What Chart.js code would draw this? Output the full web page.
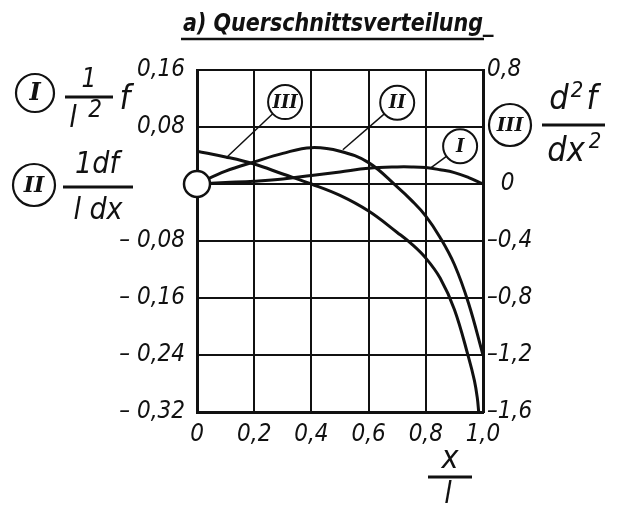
<!DOCTYPE html>
<html>
<head>
<meta charset="utf-8">
<script src="https://cdn.jsdelivr.net/npm/chart.js@4.4.1/dist/chart.umd.min.js"></script>
<style>
  html, body { margin: 0; padding: 0; background: #fff; }
</style>
</head>
<body>
<canvas id="grafico" width="619" height="509"></canvas>
<script>
// x/l
const xWerte = [0, 0.1, 0.2, 0.3, 0.4, 0.5, 0.6, 0.7, 0.75, 0.8, 0.85, 0.9, 0.95, 1.0];
// I: f / l^2
const kurveI = [0, 0.002, 0.004, 0.007, 0.012, 0.017, 0.022, 0.024, 0.024, 0.023, 0.020, 0.016, 0.009, 0];
// II: (1/l) df/dx
const kurveII = [0, 0.018, 0.031, 0.043, 0.051, 0.046, 0.030, -0.004, -0.023, -0.045, -0.075, -0.113, -0.168, -0.240];
// III: d2f/dx2 (rechte Achse)
const xWerteIII = [0, 0.1, 0.2, 0.3, 0.4, 0.5, 0.6, 0.7, 0.75, 0.8, 0.85, 0.9, 0.95, 0.97, 0.98, 0.985];
const kurveIII = [0.23, 0.19, 0.14, 0.07, 0.0, -0.08, -0.19, -0.34, -0.42, -0.52, -0.66, -0.88, -1.22, -1.38, -1.50, -1.60];

const schrift = '"DejaVu Sans Condensed", "DejaVu Sans", sans-serif';
const schwarz = '#111';

function komma(v, stellen) {
  const s = Math.abs(v).toFixed(stellen).replace('.', ',');
  return v < 0 ? '\u2013' + s : s;
}

function punkte(xs, ys) {
  return xs.map((x, i) => ({ x: x, y: ys[i] }));
}

function linie(ctx, x1, y1, x2, y2) {
  ctx.beginPath();
  ctx.moveTo(x1, y1);
  ctx.lineTo(x2, y2);
  ctx.stroke();
}

function kreis(ctx, x, y, r, text, groesse) {
  ctx.beginPath();
  ctx.arc(x, y, r, 0, Math.PI * 2);
  ctx.fillStyle = '#fff';
  ctx.fill();
  ctx.stroke();
  ctx.fillStyle = schwarz;
  ctx.font = 'italic bold ' + groesse + 'px "DejaVu Serif", serif';
  ctx.textAlign = 'center';
  ctx.textBaseline = 'middle';
  ctx.fillText(text, x, y + 1);
}

function text(ctx, t, x, y, groesse, align) {
  ctx.font = 'oblique ' + groesse + 'px ' + schrift;
  ctx.textAlign = align || 'center';
  ctx.textBaseline = 'middle';
  ctx.fillText(t, x, y);
}

// Kreis mit Hinweislinie zur Kurve, Lage in Achsenwerten
function hinweis(ctx, sx, sy, kx, ky, zx, zy, t) {
  const cx = sx.getPixelForValue(kx), cy = sy.getPixelForValue(ky);
  const ex = sx.getPixelForValue(zx), ey = sy.getPixelForValue(zy);
  const r = 17;
  const d = Math.hypot(ex - cx, ey - cy);
  ctx.lineWidth = 1.5;
  linie(ctx, cx + (ex - cx) / d * r, cy + (ey - cy) / d * r, ex, ey);
  ctx.lineWidth = 2;
  kreis(ctx, cx, cy, r, t, 18);
}

const beschriftung = {
  id: 'beschriftung',
  afterDraw(chart) {
    const ctx = chart.ctx;
    const sx = chart.scales.x, sy = chart.scales.y;
    ctx.save();
    ctx.strokeStyle = schwarz;
    ctx.fillStyle = schwarz;

    // Titel, auf 300 px Breite gestreckt
    ctx.save();
    ctx.font = 'oblique bold 24px ' + schrift;
    ctx.textAlign = 'left';
    ctx.textBaseline = 'alphabetic';
    const w = ctx.measureText('a) Querschnittsverteilung').width;
    const f = 300 / w;
    ctx.translate(183, 31);
    ctx.scale(f, 1);
    ctx.fillText('a) Querschnittsverteilung_', 0, 0);
    ctx.restore();
    ctx.lineWidth = 2.5;
    linie(ctx, 181, 39, 484, 39);

    // Nullpunkt
    ctx.lineWidth = 2.5;
    ctx.beginPath();
    ctx.arc(sx.getPixelForValue(0), sy.getPixelForValue(0), 13, 0, Math.PI * 2);
    ctx.fillStyle = '#fff';
    ctx.fill();
    ctx.stroke();
    ctx.fillStyle = schwarz;

    // Kurvenbezeichnungen im Diagramm
    hinweis(ctx, sx, sy, 0.308, 0.115, 0.105, 0.038, 'III');
    hinweis(ctx, sx, sy, 0.70, 0.114, 0.51, 0.048, 'II');
    hinweis(ctx, sx, sy, 0.92, 0.053, 0.815, 0.022, 'I');

    // I  1/l^2 f
    ctx.lineWidth = 2.2;
    kreis(ctx, 35, 93, 19, 'I', 24);
    text(ctx, '1', 89, 80, 26);
    ctx.lineWidth = 3;
    linie(ctx, 65, 97, 113, 97);
    text(ctx, 'l', 73, 119, 30);
    text(ctx, '2', 95, 111, 24);
    text(ctx, 'f', 125, 100, 34);

    // II  1/l df/dx
    ctx.lineWidth = 2.2;
    kreis(ctx, 34, 185, 21, 'II', 22);
    text(ctx, '1df', 97, 165, 30);
    ctx.lineWidth = 3;
    linie(ctx, 63, 187, 133, 187);
    text(ctx, 'l dx', 98, 211, 30);

    // III  d2f/dx2
    ctx.lineWidth = 2.2;
    kreis(ctx, 510, 125, 21, 'III', 19);
    text(ctx, 'd', 559, 100, 34);
    text(ctx, '2', 577, 91, 22);
    text(ctx, 'f', 592, 100, 34);
    ctx.lineWidth = 3;
    linie(ctx, 542, 125, 605, 125);
    text(ctx, 'dx', 566, 152, 34);
    text(ctx, '2', 595, 142, 22);

    // x/l
    text(ctx, 'x', 450, 460, 32);
    ctx.lineWidth = 3;
    linie(ctx, 428, 477, 472, 477);
    text(ctx, 'l', 448, 495, 30);

    ctx.restore();
  }
};

const tickFont = { family: schrift, size: 24, style: 'oblique' };

new Chart(document.getElementById('grafico'), {
  type: 'line',
  data: {
    datasets: [
      { label: 'I', data: punkte(xWerte, kurveI), yAxisID: 'y' },
      { label: 'II', data: punkte(xWerte, kurveII), yAxisID: 'y' },
      { label: 'III', data: punkte(xWerteIII, kurveIII), yAxisID: 'y2' }
    ]
  },
  options: {
    responsive: false,
    animation: false,
    events: [],
    layout: { padding: { top: 70, left: 0, right: 0, bottom: 0 } },
    elements: {
      line: { borderColor: schwarz, borderWidth: 3, tension: 0.4, fill: false },
      point: { radius: 0 }
    },
    plugins: {
      legend: { display: false },
      tooltip: { enabled: false }
    },
    scales: {
      x: {
        type: 'linear',
        min: 0,
        max: 1,
        afterFit: s => { s.height = 97; },
        ticks: {
          stepSize: 0.2,
          padding: 8,
          color: schwarz,
          font: tickFont,
          callback: v => komma(v, v === 0 ? 0 : 1)
        },
        grid: { color: schwarz, lineWidth: 2, drawTicks: false },
        border: { color: schwarz, width: 3 }
      },
      y: {
        position: 'left',
        min: -0.32,
        max: 0.16,
        afterFit: s => { s.width = 197; },
        ticks: {
          stepSize: 0.08,
          padding: 12,
          color: schwarz,
          font: tickFont,
          callback: v => Math.abs(v) < 1e-9 ? '' : komma(v, 2).replace('\u2013', '\u2013 ')
        },
        grid: { color: schwarz, lineWidth: 2, drawTicks: false },
        border: { color: schwarz, width: 3 }
      },
      y2: {
        position: 'right',
        min: -1.6,
        max: 0.8,
        afterFit: s => { s.width = 136; },
        ticks: {
          stepSize: 0.4,
          padding: 4,
          color: schwarz,
          font: tickFont,
          callback: v => Math.abs(v - 0.4) < 1e-9 ? '' : (Math.abs(v) < 1e-9 ? '  0' : komma(v, 1))
        },
        grid: { display: false, drawTicks: false },
        border: { color: schwarz, width: 3 }
      }
    }
  },
  plugins: [beschriftung]
});
</script>
</body>
</html>
